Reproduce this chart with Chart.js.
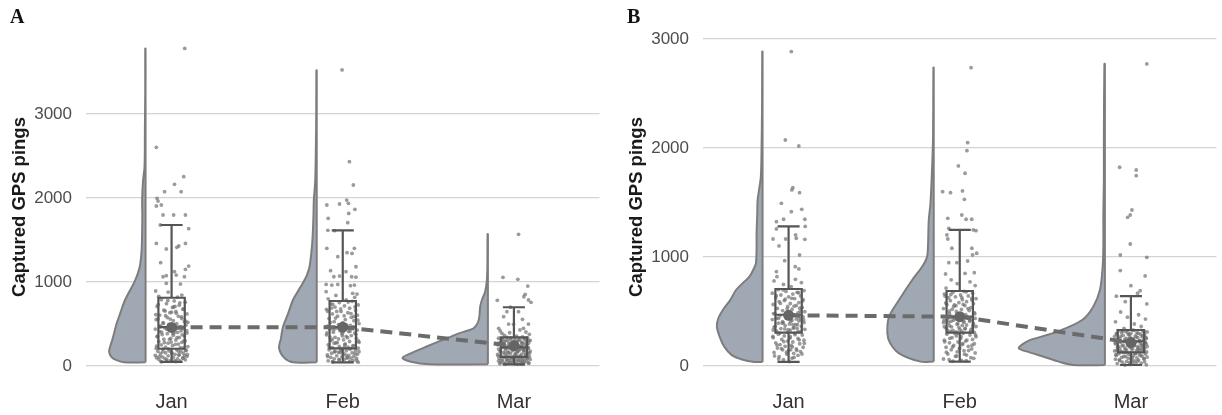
<!DOCTYPE html>
<html>
<head>
<meta charset="utf-8">
<script src="https://cdn.jsdelivr.net/npm/chart.js@4.4.1/dist/chart.umd.min.js"></script>
<style>
  html, body { margin: 0; padding: 0; background: #fff; width: 1222px; height: 415px; overflow: hidden; }
  .panel { position: absolute; top: 0; }
  .tag { position: absolute; top: 7px; font: bold 20px/19px "Liberation Serif", "DejaVu Serif", serif; color: #111; }
</style>
</head>
<body>
<div class="panel" style="left:0"><canvas id="chartA" width="605" height="415"></canvas></div>
<div class="panel" style="left:617px"><canvas id="chartB" width="605" height="415"></canvas></div>
<div class="tag" style="left:10px">A</div>
<div class="tag" style="left:627px">B</div>
<script>
// ---- categories and axis ticks ----
const CATEGORIES = ['Jan', 'Feb', 'Mar'];
const Y_TICKS = [0, 1000, 2000, 3000];
const Y_TITLE = 'Captured GPS pings';

// ---- panel A: individual observations, [jitter (1/1000 of a category), pings] ----
const A_JAN_POINTS = [
  [77,3780],[-89,2603],[71,2254],[17,2163],[-41,2075],[56,2075],[-85,1996],[-79,1964],[-89,1905],[-60,1917],
  [-50,1798],[12,1798],[81,1798],[-66,1679],[100,1635],[-89,1460],[81,1460],[-31,1393],[31,1413],[42,1429],
  [-64,1230],[100,1190],[81,1151],[17,1123],[-50,1063],[-31,1075],[27,1083],[75,1063],[52,976],[-31,984],[-93,893],
  [-20,880],[60,845],[-75,830],[35,820],
  [-60,790],[15,775],[80,760],[-30,742],[45,725],[-85,710],[5,698],[70,680],[-45,665],[25,650],[-10,635],[90,620],
  [-70,605],[40,592],[-25,578],[60,565],[-90,552],[10,540],[75,528],[-50,515],[30,505],[-15,495],[85,487],[-65,478],
  [50,470],[-35,600],[20,710],[-80,560],[95,520],[0,640],
  [-40,455],[65,448],[-95,440],[20,432],[-10,425],[55,418],[-70,410],[35,400],[90,392],[-25,385],[-55,375],[10,366],
  [75,358],[-85,350],[45,340],[-5,330],[-45,320],[25,310],[80,300],[-75,292],[60,282],[-20,272],[40,262],[-60,252],
  [5,242],[95,232],[-35,224],[70,216],[-90,210],[15,395],
  [-50,200],[30,195],[85,188],[-15,182],[-80,176],[55,170],[0,164],[-35,158],[70,152],[-65,146],[20,140],[45,134],
  [-95,128],[-20,122],[90,116],[-55,110],[10,104],[65,98],[-40,92],[35,86],[-75,80],[80,74],[-5,68],[50,62],
  [-30,58],[25,54],[-60,50],[75,120],[-88,100],[40,175],
  [-22,780],[48,752],[-78,731],[12,703],[66,676],[-38,655],[28,628],[-92,611],[58,586],[-8,559],[83,533],[-48,507],
  [18,482],[-68,466],[38,452],[-28,437],[88,421],[-58,404],[8,388],[62,371],[-82,355],[32,338],[-12,318],[72,298],
  [-42,280],[22,258],[-88,238],[52,220],[-18,203],[82,186],[-52,169],[2,150],[42,131],[-72,112],[68,93],[-28,77],
  [18,63],[-62,56],[92,140],[-2,285]
];
const A_FEB_POINTS = [
  [-4,3524],[39,2432],[62,2155],[-93,1917],[-19,1929],[23,1976],[33,1937],[71,1865],[-85,1758],[35,1817],
  [29,1706],[-87,1615],[-48,1611],[-93,1401],[68,1401],[25,1349],[54,1341],[-29,1302],[77,1182],[-71,1135],
  [19,1123],[-19,1071],[-52,1063],[52,1063],[77,1058],[-97,972],[-64,964],[-29,972],[45,956],[68,964],
  [-97,885],[58,865],[83,857],
  [-40,840],[70,818],[-85,800],[20,786],
  [55,770],[-20,756],[-70,741],[90,728],[10,715],[-45,702],[40,688],[-95,675],[75,662],[-10,648],[30,634],[-60,620],
  [85,606],[-30,594],[50,580],[-80,566],[15,553],[65,540],[-50,528],[0,516],[95,505],[-25,494],[45,484],[-90,475],
  [25,468],[-65,690],
  [60,460],[-35,452],[10,444],[-75,436],[85,428],[-15,419],[35,410],[-55,401],[70,392],[-5,382],[-95,372],[50,362],
  [20,352],[-45,342],[80,332],[-25,322],[5,312],[-70,302],[40,292],[95,282],[-50,272],[15,262],[-85,252],[65,243],
  [-20,234],[30,226],[-60,218],[90,212],[0,398],[-40,275],
  [45,206],[-10,200],[-80,194],[75,188],[20,182],[-45,176],[95,170],[-25,164],[55,158],[-65,152],[5,146],[85,140],
  [-90,134],[35,128],[-35,122],[65,116],[-5,110],[-70,104],[25,98],[80,92],[-50,86],[10,80],[-20,74],[60,68],
  [-85,62],[40,56],[-60,50],[90,46],[-15,160],[30,100],
  [32,762],[-58,733],[72,705],[-12,679],[-88,652],[48,625],[8,598],[-42,571],[88,546],[-72,519],[22,490],[62,467],
  [-18,455],[-52,431],[42,414],[-92,395],[78,377],[-2,358],[28,337],[-62,317],[92,298],[-32,279],[12,258],[58,239],
  [-78,221],[38,205],[-8,187],[-48,168],[72,149],[18,131],[-88,113],[48,95],[-22,79],[82,63],[-58,53],[2,480],
  [-75,345],[65,590],[-35,650],[10,230]
];
const A_MAR_POINTS = [
  [27,1568],[-64,1056],[23,1032],[81,952],[66,853],[58,825],[85,786],[100,758],[-97,782],
  [-20,700],[-41,647],[27,647],[-60,587],[50,556],[-31,500],[-2,496],[85,500],[-89,449],[56,449],[-70,389],
  [35,430],[-80,418],[70,405],[-25,396],[90,378],[-55,366],[15,356],[50,346],
  [-40,340],[80,336],[-90,331],[5,327],[60,322],[-20,318],[-65,313],[35,309],[95,305],[-50,300],[20,296],[-5,291],
  [70,287],[-75,283],[45,279],[-30,274],[85,270],[10,266],[-60,262],[55,257],[-95,253],[25,249],[-15,245],[75,240],
  [-45,236],[40,232],
  [-70,222],[15,218],[85,214],[-30,210],[50,206],[-90,202],[0,198],[65,194],[-50,190],[30,186],[-10,182],[95,178],
  [-80,174],[20,170],[-35,166],[60,162],[-60,158],[10,154],[80,150],[-20,146],[45,142],[-95,138],[5,134],[70,130],
  [-40,126],[35,122],[-75,118],[90,114],[-5,110],[55,190],
  [25,106],[-55,103],[80,100],[-15,97],[45,94],[-85,91],[10,88],[65,85],[-35,82],[95,79],[-70,76],[0,73],
  [50,70],[-25,67],[30,64],[-90,61],[75,58],[-45,55],[15,52],[-10,49],[60,46],[-80,43],[40,40],[-30,37],
  [85,34],[-60,31],[5,28],[55,25],[-50,22],[20,20],
  [-18,335],[62,328],[-72,321],[28,314],[-38,306],[88,299],[8,292],[-58,285],[48,278],[-88,271],[18,264],[72,256],
  [-28,248],[42,241],[-62,234],[2,227],[82,219],[-48,212],[32,204],[-8,196],[58,188],[-78,180],[22,171],[-32,163],
  [92,155],[-52,146],[12,137],[68,128],[-92,119],[38,108],[-12,98],[78,89],[-42,80],[28,71],[-68,62],[52,53],
  [-22,44],[88,35],[-82,26],[42,22]
];

// ---- panel A: box-plot summaries, means and density outlines ----
const A_BOX_LOW    = [50, 44, 20];
const A_BOX_Q1     = [206, 210, 108];
const A_BOX_MEDIAN = [464, 464, 223];
const A_BOX_Q3     = [813, 774, 341];
const A_BOX_HIGH   = [1679, 1615, 700];
const A_MEANS      = [460, 462, 242];
// [pings, half-violin width (1/1000 of a category)]
const A_VIOLIN_JAN = [[44,125],[70,170],[110,200],[170,213],[230,207],[300,196],[390,184],[500,170],[587,155],[700,136],[786,120],[870,99],[944,79],[1020,61],[1103,45],[1200,32],[1380,23],[1600,20],[1800,19],[1976,20],[2200,15],[2373,6],[2800,4],[3300,2],[3780,2]];
const A_VIOLIN_FEB = [[44,139],[100,191],[210,220],[330,209],[468,197],[620,168],[786,139],[890,110],[988,81],[1080,58],[1182,42],[1400,29],[1580,23],[1800,19],[1976,17],[2200,9],[2600,5],[3000,3],[3520,2]];
const A_VIOLIN_MAR = [[20,342],[50,450],[99,499],[160,441],[210,383],[260,325],[310,267],[350,215],[389,170],[420,122],[449,83],[520,58],[587,50],[706,45],[786,35],[885,16],[1024,6],[1200,3],[1570,2]];

// ---- panel B: individual observations ----
const B_JAN_POINTS = [
  [16,2884],[-19,2073],[60,2018],[25,1636],[19,1615],[64,1590],[-42,1492],[16,1416],[77,1437],[-29,1346],
  [95,1346],[-71,1324],[97,1280],[-71,1257],[-91,1165],[-17,1165],[41,1202],[45,1172],[95,1162],[-56,1101],
  [64,1018],[-23,966],[39,911],[60,890],[-71,865],[-68,819],
  [40,795],[-85,780],[75,765],[-30,748],[15,728],
  [-60,700],[90,692],[-15,684],[50,676],[-95,668],[25,660],[-45,651],[70,643],[0,634],[-75,626],[35,618],[85,609],
  [-25,600],[-55,591],[60,582],[10,573],[-90,564],[45,555],[-5,546],[80,537],[-65,528],[20,518],[-35,508],[95,498],
  [55,488],[-80,478],[30,472],[-20,612],[65,530],
  [-50,462],[15,456],[85,450],[-10,444],[-70,438],[45,432],[-95,426],[20,420],[60,413],[-35,406],[90,399],[-60,392],
  [5,385],[40,378],[-20,371],[75,364],[-85,357],[30,350],[-45,343],[95,336],[10,329],[-70,322],[55,316],[-5,310],
  [-30,395],[70,430],[-90,330],[25,380],[50,345],[-15,455],
  [35,300],[-60,292],[80,284],[-25,276],[10,268],[-90,260],[55,252],[-40,244],[90,236],[-5,228],[25,220],[-75,212],
  [65,204],[-50,196],[15,188],[-20,180],[85,172],[-65,164],[45,156],[-35,148],[0,140],[70,132],[-85,124],[30,116],
  [-10,108],[55,98],[-55,86],[20,72],[-30,58],[5,40],
  [-32,698],[58,672],[-72,645],[18,621],[82,597],[-48,574],[32,549],[-8,524],[68,501],[-88,481],[42,466],[-18,451],
  [-58,437],[88,423],[12,409],[-38,394],[52,379],[-78,364],[28,349],[-2,333],[72,318],[-52,302],[38,287],[-92,271],
  [8,256],[62,240],[-28,224],[92,208],[-68,192],[22,176],[-42,160],[48,143],[-12,126],[78,110],[-82,92],[32,78],
  [-58,64],[12,150],[-22,340],[58,450]
];
const B_FEB_POINTS = [
  [66,2737],[46,2049],[42,1975],[-8,1835],[31,1768],[-100,1599],[-54,1590],[16,1606],[27,1529],[-70,1355],
  [12,1385],[37,1346],[70,1346],[-64,1263],[79,1248],[95,1241],[-75,1202],[-46,1080],[-70,1165],[71,1080],
  [99,1034],[75,1018],[-64,948],[-17,948],[46,963],[-83,844],[31,850],[85,856],
  [-50,790],[60,772],[-15,755],[90,738],[-80,715],
  [25,684],[-40,676],[75,668],[-90,660],[5,651],[50,643],[-25,634],[-65,626],[95,617],[15,608],[-55,599],[40,590],
  [-5,581],[80,572],[-75,563],[30,554],[-35,545],[65,536],[-95,527],[10,518],[55,509],[-20,500],[85,490],[-60,480],
  [35,470],[-10,460],[70,620],[-45,520],[20,565],[-85,640],
  [45,448],[-30,442],[90,436],[-70,430],[5,424],[60,418],[-50,411],[25,404],[-95,397],[80,390],[-15,383],[40,376],
  [-60,369],[95,362],[-5,355],[-80,348],[30,341],[65,334],[-40,327],[10,320],[-20,313],[85,308],[-65,400],[50,440],
  [-90,360],[15,372],[-35,420],[75,350],[0,336],[-55,318],
  [20,300],[-75,292],[60,284],[-20,276],[95,268],[-45,260],[5,252],[75,244],[-90,236],[35,228],[-10,220],[-60,212],
  [85,204],[15,196],[-35,188],[50,180],[-80,172],[0,164],[70,156],[-50,148],[25,140],[-15,130],[90,120],[-70,110],
  [40,100],[-25,88],[65,76],[-95,64],[10,52],[-40,44],
  [38,680],[-52,655],[12,629],[72,603],[-82,578],[-22,553],[48,527],[-62,503],[88,478],[2,462],[-38,447],[58,433],
  [-92,418],[22,404],[-12,389],[78,374],[-48,359],[32,344],[-72,329],[62,314],[-28,299],[92,284],[8,269],[-58,254],
  [42,238],[-88,222],[18,206],[72,190],[-42,174],[-2,158],[52,142],[-78,126],[28,108],[-18,92],[82,70],[-62,58],
  [38,48],[-32,560],[58,410],[-8,300]
];
const B_MAR_POINTS = [
  [93,2771],[-66,1823],[31,1798],[31,1746],[6,1431],[-4,1385],[-19,1364],[-4,1119],[-62,1018],[93,997],
  [-62,875],[83,826],[0,737],[54,691],[39,667],[-85,640],[93,569],[-33,590],
  [-60,495],[45,470],[-20,448],[85,430],[-90,405],[20,385],[60,362],[-40,345],
  [10,328],[-75,324],[70,320],[-30,316],[95,312],[-55,308],[35,304],[0,300],[-85,296],[55,292],[-15,288],[80,284],
  [-45,280],[25,276],[-95,272],[65,268],[-5,264],[40,260],[-65,256],[90,252],[15,248],[-35,244],[75,240],[-80,236],
  [50,232],[-10,228],
  [30,222],[-60,218],[85,214],[-20,210],[55,206],[-90,202],[5,198],[70,194],[-45,190],[20,186],[-75,182],[95,178],
  [-5,174],[45,170],[-35,166],[80,162],[-65,158],[10,154],[60,150],[-25,146],[35,142],[-95,138],[75,134],[-50,130],
  [0,127],[90,200],[-15,185],[40,155],[-80,145],[65,175],
  [-40,122],[25,118],[-70,114],[85,110],[-10,106],[50,102],[-85,98],[15,94],[65,90],[-30,86],[95,82],[-55,78],
  [35,74],[-15,70],[75,66],[-90,62],[5,58],[45,54],[-65,50],[20,46],[-25,42],[80,38],[-50,34],[10,30],
  [60,26],[-80,22],[30,18],[-5,14],[90,11],[-35,9],
  [18,326],[-48,320],[78,314],[-18,307],[42,301],[-82,294],[-8,287],[68,281],[-58,274],[32,267],[88,260],[-28,253],
  [-72,246],[12,239],[52,232],[-38,225],[82,219],[-92,212],[22,205],[-12,199],[62,192],[-52,185],[38,178],[-78,171],
  [2,164],[72,157],[-32,150],[48,143],[-62,136],[92,129],[-22,121],[28,113],[-88,104],[58,95],[-42,86],[8,77],
  [78,67],[-68,56],[38,44],[-8,30]
];

// ---- panel B: box-plot summaries, means and density outlines ----
const B_BOX_LOW    = [37, 40, 9];
const B_BOX_Q1     = [306, 306, 125];
const B_BOX_MEDIAN = [470, 452, 225];
const B_BOX_Q3     = [706, 688, 330];
const B_BOX_HIGH   = [1280, 1248, 640];
const B_MEANS      = [465, 452, 215];
const B_VIOLIN_JAN = [[37,48],[60,120],[100,180],[180,225],[269,251],[361,267],[440,258],[514,232],[600,191],[697,155],[760,116],[819,77],[880,55],[942,39],[1100,35],[1217,35],[1400,31],[1523,29],[1620,20],[1737,10],[1982,6],[2400,3],[2884,2]];
const B_VIOLIN_FEB = [[40,77],[116,203],[210,255],[300,271],[452,261],[605,203],[789,126],[911,68],[1003,39],[1125,33],[1339,29],[1492,19],[1798,10],[2104,4],[2737,2]];
const B_VIOLIN_MAR = [[9,184],[40,270],[85,358],[125,440],[162,503],[200,480],[239,435],[315,278],[422,133],[544,68],[697,29],[911,13],[1100,9],[1400,9],[1700,6],[2100,6],[2771,3]];

// ---- drawing constants ----
const FONT = '"Liberation Sans", Arial, Helvetica, sans-serif';
const UNIT = 0.001;          // jitter / width unit, in categories
const VIOLIN_GAP = 0.152;    // distance from category centre to the violin's flat side
const BOX_HALF = 0.077;
const CAP_HALF = 0.058;
const VIOLIN_FILL = '#a0a8b4';
const VIOLIN_LINE = '#7d7d7d';
const POINT_COLOR = 'rgba(112,112,112,0.7)';
const BOX_COLOR = '#555555';
const MEAN_COLOR = '#656565';

// Outline of a half violin: up along the density curve, back down the flat side.
function violinShape(idx, dens) {
  const base = idx + 1 - VIOLIN_GAP;
  const pts = [{ x: base, y: dens[0][0] }];
  dens.forEach(([v, w]) => pts.push({ x: base - w * UNIT, y: v }));
  for (let k = dens.length - 1; k >= 0; k--) pts.push({ x: base, y: dens[k][0] });
  return pts;
}

function boxShape(idx, lo, q1, med, q3, hi) {
  const c = idx + 1, L = c - BOX_HALF, R = c + BOX_HALF, cl = c - CAP_HALF, cr = c + CAP_HALF;
  const gap = () => ({ x: c, y: null });
  return [
    { x: L, y: q1 }, { x: R, y: q1 }, { x: R, y: q3 }, { x: L, y: q3 }, { x: L, y: q1 }, gap(),
    { x: L, y: med }, { x: R, y: med }, gap(),
    { x: c, y: q3 }, { x: c, y: hi }, gap(),
    { x: cl, y: hi }, { x: cr, y: hi }, gap(),
    { x: c, y: q1 }, { x: c, y: lo }, gap(),
    { x: cl, y: lo }, { x: cr, y: lo }
  ];
}

function buildPanel(canvasId, p) {
  const datasets = [];
  p.violins.forEach((dens, i) => datasets.push({
    data: violinShape(i, dens), fill: 'shape', backgroundColor: VIOLIN_FILL,
    borderColor: VIOLIN_LINE, borderWidth: 2, pointRadius: 0, tension: 0.3, order: 50
  }));
  p.points.forEach((pts, i) => datasets.push({
    data: pts.map(([j, v]) => ({ x: i + 1 + j * UNIT, y: v })), showLine: false,
    pointRadius: 1.9, pointBorderWidth: 0, pointBackgroundColor: POINT_COLOR, order: 40
  }));
  CATEGORIES.forEach((_, i) => datasets.push({
    data: boxShape(i, p.low[i], p.q1[i], p.median[i], p.q3[i], p.high[i]), fill: false,
    borderColor: BOX_COLOR, borderWidth: 2.2, pointRadius: 0, spanGaps: false,
    borderJoinStyle: 'miter', borderCapStyle: 'square', order: 30
  }));
  datasets.push({
    data: p.means.map((m, i) => ({ x: i + 1, y: m })), fill: false, borderColor: '#6b6b6b',
    borderWidth: 4, borderDash: [12, 7], pointRadius: 0, order: 20
  });
  datasets.push({
    data: p.means.map((m, i) => ({ x: i + 1, y: m })), showLine: false,
    pointRadius: 5.5, pointBorderWidth: 0, pointBackgroundColor: MEAN_COLOR, order: 10
  });

  return new Chart(document.getElementById(canvasId), {
    type: 'line',
    data: { datasets },
    options: {
      responsive: false, animation: false, devicePixelRatio: 1,
      layout: { padding: { top: 32, left: 0, right: 0, bottom: 0 } },
      plugins: { legend: { display: false }, tooltip: { enabled: false } },
      scales: {
        x: {
          type: 'linear', min: 0.5, max: 3.5,
          afterBuildTicks: s => { s.ticks = CATEGORIES.map((_, i) => ({ value: i + 1 })); },
          afterFit: s => { s.height = 33; },
          grid: { display: false, drawTicks: false }, border: { display: false },
          ticks: { callback: v => CATEGORIES[v - 1], font: { family: FONT, size: 20 }, color: '#333333',
                   padding: 8, autoSkip: false, maxRotation: 0 }
        },
        y: {
          type: 'linear', min: p.yMin, max: p.yMax,
          afterBuildTicks: s => { s.ticks = Y_TICKS.map(v => ({ value: v })); },
          afterFit: s => { s.width = 86; },
          grid: { color: '#d4d4d4', lineWidth: 1.3, drawTicks: false }, border: { display: false },
          ticks: { callback: v => String(v), font: { family: FONT, size: 17 }, color: '#4d4d4d', padding: 14 },
          title: { display: true, text: Y_TITLE, color: '#1a1a1a', padding: { top: 9, bottom: 0 },
                   font: { family: FONT, size: 18.5, weight: 'bold' } }
        }
      }
    }
  });
}

buildPanel('chartA', {
  points: [A_JAN_POINTS, A_FEB_POINTS, A_MAR_POINTS],
  violins: [A_VIOLIN_JAN, A_VIOLIN_FEB, A_VIOLIN_MAR],
  low: A_BOX_LOW, q1: A_BOX_Q1, median: A_BOX_MEDIAN, q3: A_BOX_Q3, high: A_BOX_HIGH,
  means: A_MEANS, yMin: -190, yMax: 3976
});
buildPanel('chartB', {
  points: [B_JAN_POINTS, B_FEB_POINTS, B_MAR_POINTS],
  violins: [B_VIOLIN_JAN, B_VIOLIN_FEB, B_VIOLIN_MAR],
  low: B_BOX_LOW, q1: B_BOX_Q1, median: B_BOX_MEDIAN, q3: B_BOX_Q3, high: B_BOX_HIGH,
  means: B_MEANS, yMin: -147, yMax: 3064
});
</script>
</body>
</html>
